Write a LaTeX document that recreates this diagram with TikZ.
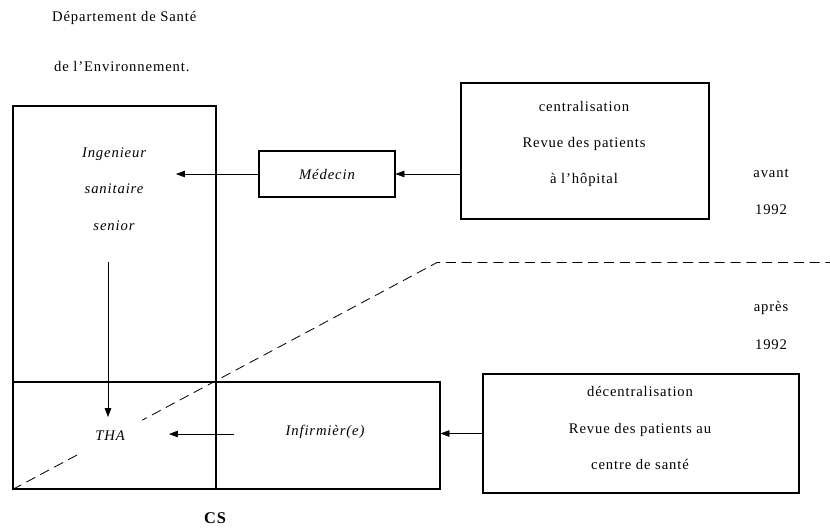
\documentclass[tikz,border=0pt]{standalone}
\usepackage{fontspec}
\setmainfont{Liberation Serif}[LetterSpace=6]
\usetikzlibrary{positioning, arrows.meta}

\begin{document}
\begin{tikzpicture}[
		x=0.3mm,
		y=-0.3mm,
		font=\fontsize{12.5}{15}\selectfont,
		box/.style={draw, line width=0.9pt, inner sep=0pt},
		link/.style={-{Triangle[length=7.5pt,width=5.5pt]}, line width=0.5pt},
		divide/.style={line width=0.7pt, dash pattern=on 8.5pt off 5pt},
		lines/.style={align=center, font=\fontsize{12.5}{31}\selectfont},
		ilines/.style={align=center, font=\fontsize{12.5}{31}\selectfont\itshape},
		ital/.style={font=\fontsize{12.5}{15}\selectfont\itshape}
		]
		\useasboundingbox (0,0) rectangle (830,529);
		
		% Title
		\node[anchor=west] (dept) at (48,18) {Département de Santé};
		\node[anchor=west] (envt) at (50,67) {de l’Environnement.};
		
		% Left frames
		\node[box, minimum width=203*0.3mm, minimum height=383*0.3mm] (isbox) at (114.5,297.5) {};
		\node[box, minimum width=427*0.3mm, minimum height=107*0.3mm] (csbox) at (226.5,435.5) {};
		\node[ilines] (ing) at (114,189) {Ingenieur\\sanitaire\\senior};
		\node[font=\fontsize{14}{16}\selectfont\bfseries] (cs) at (215,518) {CS};
		
		% Before 1992
		\node[box, ital, minimum width=136*0.3mm, minimum height=46*0.3mm] (med) at (327,174) {Médecin};
		\node[box, minimum width=248*0.3mm, minimum height=136*0.3mm] (cent) at (585,151) {};
		\node[lines] (centtxt) at (584,144) {centralisation\\Revue des patients\\à l’hôpital};
		
		% After 1992
		\node[box, minimum width=316*0.3mm, minimum height=119*0.3mm] (dec) at (641,433.5) {};
		\node[lines] (dectxt) at (640,428) {décentralisation\\Revue des patients au\\centre de santé};
		\node[ital] (inf) at (325,432) {Infirmièr(e)};
		
		% Era labels
		\foreach \y/\name/\txt in {173/av/avant, 210/ava/1992, 308/ap/après, 345/apa/1992}{
			\node (\name) at (771,\y) {\txt};
		}
		
		% Divide line
		\coordinate (kink) at (437,262.5);
		\draw[divide] (csbox.south west) -- (kink) -- (830,262.5);
		\node[ital, fill=white, minimum width=64*0.3mm, minimum height=35*0.3mm] (tha) at (110,436) {THA};
		
		% Arrows
		\coordinate (ingend) at (176,174);
		\coordinate (vtop) at (108,262);
		\coordinate (vbot) at (108,417);
		\coordinate (infstart) at (234,434);
		\coordinate (thaend) at (169,434);
		\draw[link] (cent.west |- med.east) -- (med.east);
		\draw[link] (med.west) -- (ingend);
		\draw[link] (vtop) -- (vbot);
		\draw[link] (infstart) -- (thaend);
		\draw[link] (dec.west) -- (dec.west -| csbox.east);
		
	\end{tikzpicture}
\end{document}
